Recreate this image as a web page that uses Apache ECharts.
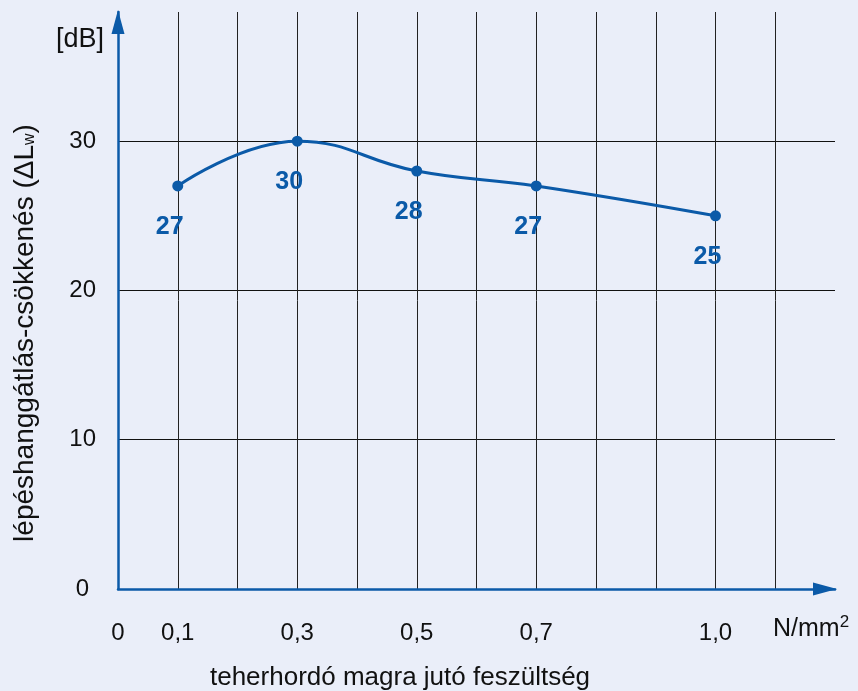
<!DOCTYPE html>
<html><head><meta charset="utf-8">
<script src="https://cdn.jsdelivr.net/npm/echarts@6/dist/echarts.min.js"></script>
<style>html,body{margin:0;padding:0;background:#eaeef9;}#c{width:858px;height:691px;}</style>
</head><body><div id="c"></div>
<script>
const xValues = [0.1, 0.3, 0.5, 0.7, 1.0];
const yValues = [27, 30, 28, 27, 25];
const xTickValues = [0, 0.1, 0.3, 0.5, 0.7, 1.0];
const xTickLabels = ['0', '0,1', '0,3', '0,5', '0,7', '1,0'];
const yTickValues = [0, 10, 20, 30];
const xUnit = 'N/mm';
const yUnit = '[dB]';
const xTitle = 'teherhordó magra jutó feszültség';
const yTitle = 'lépéshanggátlás-csökkenés (ΔL';

const blue = '#0b5aa8';
const font = 'Liberation Sans, Arial, sans-serif';
const chart = echarts.init(document.getElementById('c'));
chart.setOption({
  backgroundColor: '#eaeef9',
  animation: false,
  grid: {left: 118, right: 23, top: 12, bottom: 102},
  xAxis: {
    type: 'value', min: 0, max: 1.2, interval: 0.1,
    axisLine: {show: true, lineStyle: {color: blue, width: 2.5}, symbol: ['none', 'triangle'], symbolSize: [13, 24], symbolOffset: [0, -10]},
    axisTick: {show: false},
    axisLabel: {
      margin: 32, color: '#111', fontSize: 24, fontFamily: font,
      formatter: function (v) {
        for (let i = 0; i < xTickValues.length; i++) {
          if (Math.abs(v - xTickValues[i]) < 1e-6) return xTickLabels[i];
        }
        return '';
      }
    },
    splitLine: {show: true, showMinLine: false, showMaxLine: false, lineStyle: {color: '#222', width: 1}}
  },
  yAxis: {
    type: 'value', min: 0, max: 38.65, interval: 10,
    axisLine: {show: true, lineStyle: {color: blue, width: 2.5}, symbol: ['none', 'triangle'], symbolSize: [13, 24], symbolOffset: [0, -10]},
    axisTick: {show: false},
    axisLabel: {
      margin: 22, color: '#111', fontSize: 24, fontFamily: font,
      formatter: function (v) {
        if (yTickValues.indexOf(v) < 0) return '';
        return v === 0 ? '{z|' + v + '}' : String(v);
      },
      rich: {z: {fontSize: 24, fontFamily: font, color: '#111', padding: [0, 7, 0, 0]}}
    },
    splitLine: {show: true, showMinLine: false, showMaxLine: false, lineStyle: {color: '#111', width: 1}}
  },
  series: [{
    type: 'line', data: xValues.map((x, i) => [x, yValues[i]]),
    smooth: 0.45,
    lineStyle: {color: blue, width: 3},
    itemStyle: {color: blue},
    symbol: 'circle', symbolSize: 11,
    label: {show: true, position: 'bottom', distance: 23, offset: [-8, 0], color: blue, fontSize: 25, fontWeight: 'bold', fontFamily: font}
  }],
  graphic: [
    {type: 'text', left: 56, top: 26, style: {text: yUnit, fill: '#111', font: '27px ' + font}},
    {type: 'text', left: 773, top: 614, style: {
      text: '{a|' + xUnit + '}{s|2}', rich: {a: {fontSize: 25, fontFamily: font, fill: '#111'}, s: {fontSize: 17, fontFamily: font, fill: '#111', padding: [0,0,14,0]}}
    }},
    {type: 'text', x: 400, y: 678, style: {text: xTitle, font: '26px ' + font, fill: '#111', align: 'center', verticalAlign: 'middle'}},
    {type: 'text', x: 25, y: 333, rotation: Math.PI / 2, style: {
      text: '{a|' + yTitle + '}{s|w}{a|)}', align: 'center', verticalAlign: 'middle',
      rich: {a: {fontSize: 28, fontFamily: font, fill: '#111'}, s: {fontSize: 16, fontFamily: font, fill: '#111', padding: [10,0,0,0]}}
    }}
  ]
});
</script></body></html>
